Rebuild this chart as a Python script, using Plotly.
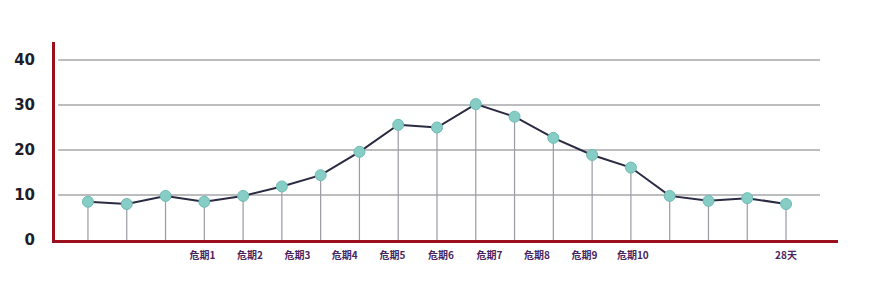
import plotly.graph_objects as go

# data
days = list(range(19))
values = [8.5, 8.0, 9.8, 8.5, 9.8, 11.9, 14.4, 19.6, 25.6, 25.0,
          30.2, 27.4, 22.7, 18.9, 16.1, 9.8, 8.7, 9.3, 8.0]
tick_pos = [2.95, 4.18, 5.4, 6.62, 7.85, 9.1, 10.35, 11.58, 12.8, 14.05, 18.0]
tick_text = ["危期1", "危期2", "危期3", "危期4", "危期5", "危期6", "危期7",
             "危期8", "危期9", "危期10", "28天"]
y_ticks = [0, 10, 20, 30, 40]

fig = go.Figure()
fig.add_trace(go.Scatter(
    x=days, y=values, mode="lines+markers",
    line=dict(color="#2a2a42", width=2),
    marker=dict(size=11, color="#86cdc6", line=dict(color="#6fbab3", width=1)),
    error_y=dict(type="data", symmetric=False, array=[0] * len(values),
                 arrayminus=values, color="#9a9aa6", thickness=1.2, width=0),
    hoverinfo="skip", showlegend=False,
))

for v in y_ticks[1:]:
    fig.add_shape(type="line", xref="paper", yref="y", x0=0.004, x1=0.977,
                  y0=v, y1=v, line=dict(color="#7c7c82", width=1.2), layer="below")

fig.update_layout(
    width=870, height=282,
    margin=dict(l=55, r=32, t=42, b=42),
    paper_bgcolor="white", plot_bgcolor="white",
    xaxis=dict(range=[-0.85, 19.34], tickvals=tick_pos, ticktext=tick_text,
               showgrid=False, zeroline=False, showline=True,
               linecolor="#9c0f1d", linewidth=3, ticks="",
               tickfont=dict(family="Noto Sans CJK SC", size=10, color="#4a2560",
                             weight="bold"),
               ticklabelstandoff=4),
    yaxis=dict(range=[0, 44], tickvals=y_ticks, showgrid=False, zeroline=False,
               showline=True, linecolor="#9c0f1d", linewidth=3, ticks="",
               tickfont=dict(family="DejaVu Sans", size=15, color="#1e1e2a",
                             weight="bold"),
               ticklabelstandoff=14),
)

fig.write_html("out.html")
